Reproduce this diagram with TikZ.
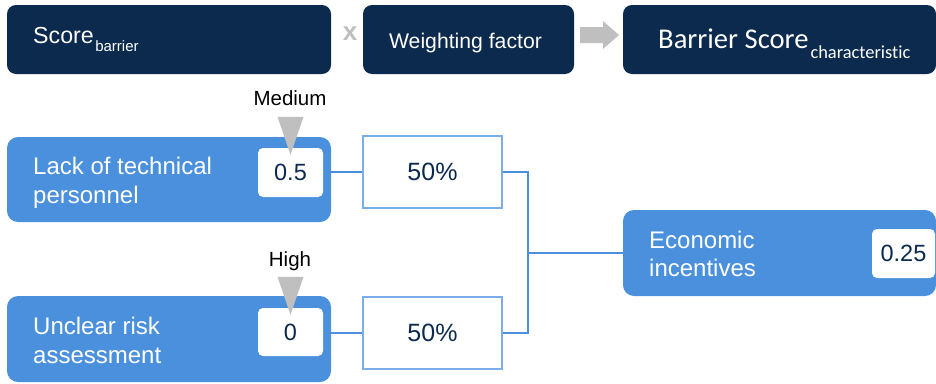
\documentclass[tikz,border=0pt]{standalone}
\usepackage{fontspec}
\setmainfont{Liberation Sans}
\newfontfamily\calibrifont[Ligatures=NoCommon]{Carlito}
\usetikzlibrary{calc}

\definecolor{navy}{HTML}{0B2A4E}
\definecolor{barblue}{HTML}{4A90DC}
\definecolor{frameblue}{HTML}{7AAEE8}
\definecolor{marker}{HTML}{BFBFBF}

\newcommand{\fsz}[1]{\fontsize{#1}{1.17\dimexpr#1pt\relax}\selectfont}

\tikzset{
  x=1pt, y=-1pt,
  headbox/.style={fill=navy, rounded corners=9pt, inner sep=0pt},
  barrierbox/.style={fill=barblue, rounded corners=11pt, inner sep=0pt},
  valuebox/.style={fill=white, rounded corners=5pt, inner sep=0pt,
    text=navy, font=\fsz{23.5}},
  weightbox/.style={draw=frameblue, line width=1.3pt, fill=white, inner sep=0pt,
    text=navy, font=\fsz{25}},
  bartext/.style={text=white, font=\fsz{24}, align=left, inner sep=0pt,
    anchor=base west},
  levelnote/.style={text=black, font=\fsz{20.5}, inner sep=0pt, anchor=base},
  link/.style={draw=barblue, line width=1.6pt},
  levelmark/.style={fill=marker},
}

\begin{document}
\begin{tikzpicture}
\useasboundingbox (0,0) rectangle (936,383);
\clip (0,0) rectangle (936,383);

% formula row
\node[headbox, minimum width=324pt, minimum height=69pt] (hscore) at (169,39.5) {};
\node[headbox, minimum width=211pt, minimum height=69pt] (hweight) at (468.5,39.5) {};
\node[headbox, minimum width=313pt, minimum height=69pt] (hresult) at (779.5,39.5) {};

\node[text=white, inner sep=0pt, anchor=base west, font=\fsz{23.2}] (tscore) at (33,43)
  {Score\hspace{1.5pt}\raisebox{-8pt}{\fsz{15}barrier}};
\node[text=marker, inner sep=0pt, anchor=base, font=\bfseries\fsz{26}] (times) at (350,40) {x};
\node[text=white, inner sep=0pt, anchor=base, font=\fsz{21.2}] (tweight) at (465.5,48)
  {Weighting factor};
\node[text=white, inner sep=0pt, anchor=base west, font=\calibrifont\fsz{28.6}] (tresult) at (658,48)
  {Barrier Score\hspace{2pt}\raisebox{-10pt}{\fsz{18.4}characteristic}};

% arrow between factor and result
\fill[marker] (580,27) -- (603,27) -- (603,21) -- (619,35) -- (603,49) -- (603,43) -- (580,43) -- cycle;

% barriers
\node[barrierbox, minimum width=324pt, minimum height=85pt] (bperson) at (169,179.5) {};
\node[barrierbox, minimum width=324pt, minimum height=86pt] (brisk) at (169,339) {};
\node[bartext] (tperson) at (33,203) {Lack of technical\\personnel};
\node[bartext] (trisk) at (33,363) {Unclear risk\\assessment};

\node[valuebox, minimum width=65pt, minimum height=49pt] (vperson) at (290.5,172.5) {0.5};
\node[valuebox, minimum width=65pt, minimum height=48pt] (vrisk) at (290.5,332) {0};

% level markers
\fill[levelmark] ($(vperson.north)+(-13,-31)$) -- ++(26,0) -- ($(vperson.north)+(0,7)$) -- cycle;
\fill[levelmark] ($(vrisk.north)+(-13,-31)$) -- ++(26,0) -- ($(vrisk.north)+(0,7)$) -- cycle;
\node[levelnote] (lperson) at (290,105) {Medium};
\node[levelnote] (lrisk) at (290,266) {High};

% weights
\node[weightbox, minimum width=139pt, minimum height=72pt] (wperson) at (432.5,172) {50\%};
\node[weightbox, minimum width=139pt, minimum height=72pt] (wrisk) at (432.5,333) {50\%};

% characteristic
\node[barrierbox, minimum width=313pt, minimum height=86pt] (cecon) at (779.5,253) {};
\node[bartext] (tecon) at (649,276) {Economic\\[-1pt]incentives};
\node[valuebox, minimum width=63pt, minimum height=49pt] (vecon) at (903.5,253.5) {0.25};

% connectors
\coordinate (join) at (528,253);
\draw[link] (wperson.west) -- (wperson.west -| bperson.east);
\draw[link] (wrisk.west) -- (wrisk.west -| brisk.east);
\draw[link] (wperson.east) -| (join);
\draw[link] (wrisk.east) -| (join);
\draw[link] (join) -- (cecon.west);
\end{tikzpicture}
\end{document}
